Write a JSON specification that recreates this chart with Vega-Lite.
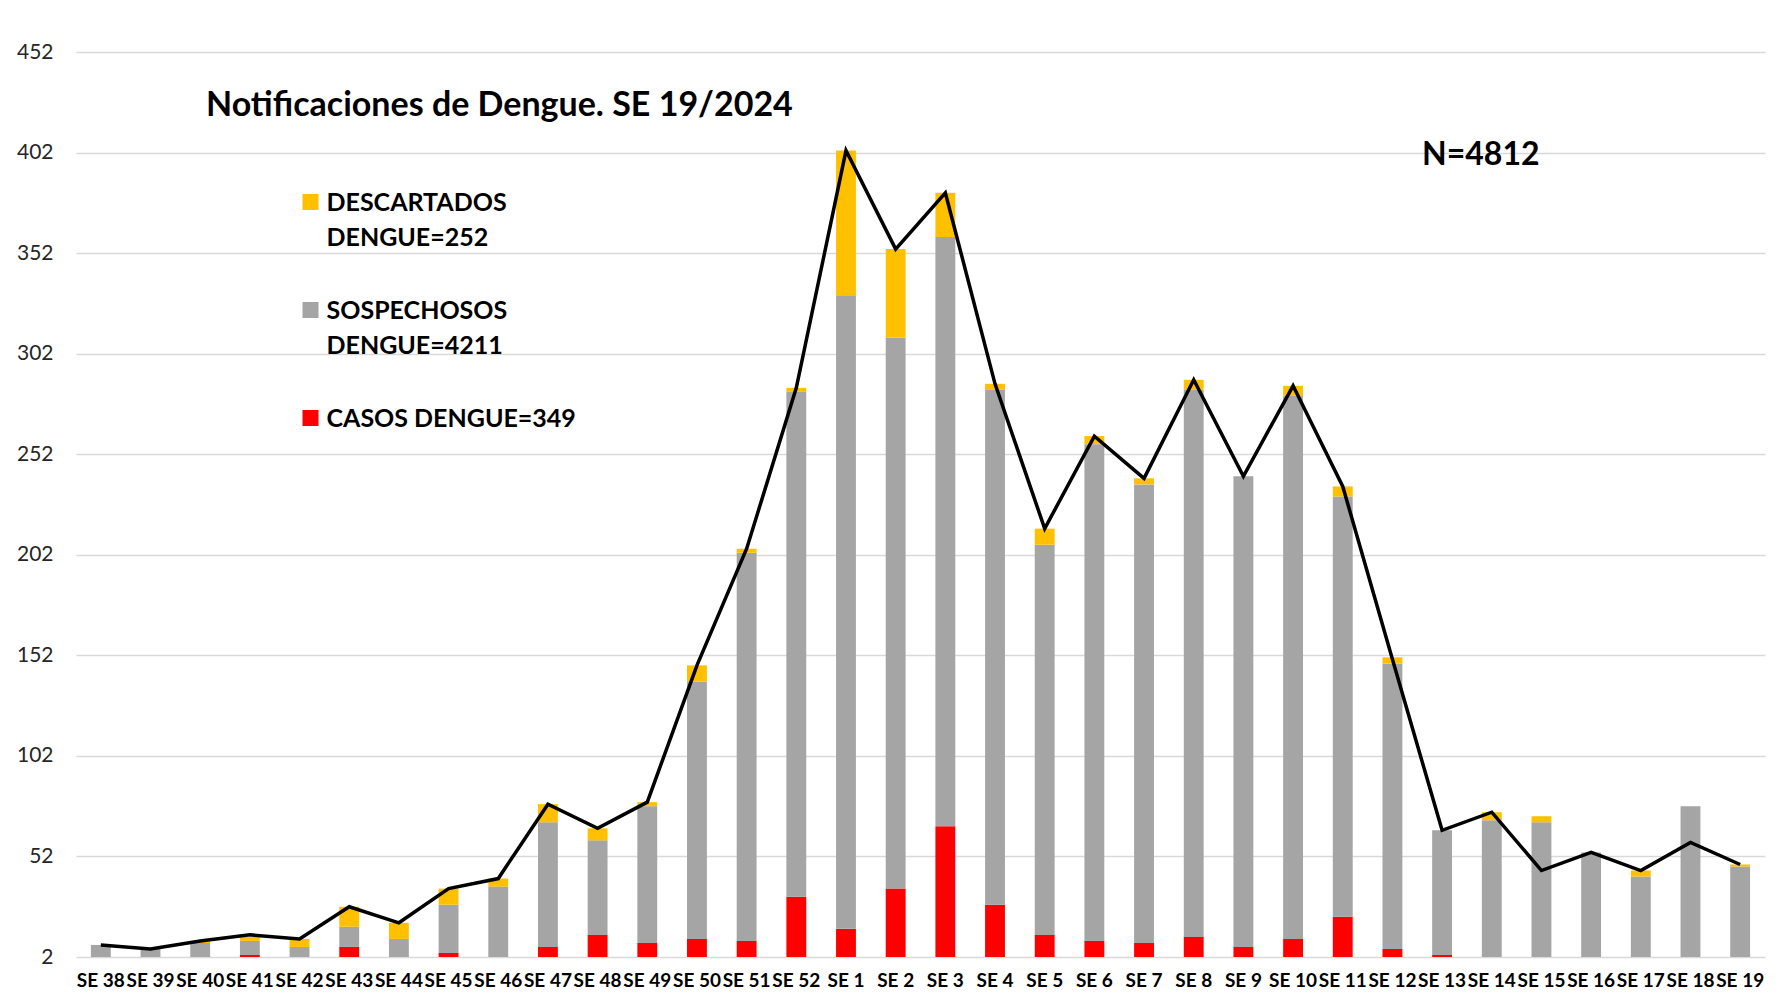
{
  "$schema": "https://vega.github.io/schema/vega-lite/v6.json",
  "width": 1689,
  "height": 905,
  "padding": {"left": 16, "top": 41, "right": 20, "bottom": 5},
  "background": "white",
  "title": {
    "text": "Notificaciones de Dengue. SE 19/2024",
    "anchor": "start",
    "frame": "group",
    "font": "Lato",
    "fontSize": 34,
    "fontWeight": "bold",
    "color": "#000000",
    "baseline": "alphabetic",
    "offset": 0,
    "dx": 130,
    "dy": 109
  },
  "config": {
    "view": {"stroke": null},
    "legend": {
      "labelFont": "Lato",
      "labelFontSize": 25,
      "labelFontWeight": "bold",
      "labelColor": "#000000",
      "symbolType": "square",
      "symbolSize": 256,
      "symbolStrokeWidth": 0,
      "padding": 0,
      "rowPadding": 46,
      "labelOffset": 3.5,
      "labelLimit": 400
    }
  },
  "data": {
    "values": [
      {"semana": "SE 38", "a_casos": 0, "b_sosp": 8, "c_desc": 0, "linea": 8},
      {"semana": "SE 39", "a_casos": 0, "b_sosp": 6, "c_desc": 0, "linea": 6},
      {"semana": "SE 40", "a_casos": 0, "b_sosp": 9, "c_desc": 1, "linea": 10},
      {"semana": "SE 41", "a_casos": 3, "b_sosp": 7, "c_desc": 2, "linea": 13},
      {"semana": "SE 42", "a_casos": 1, "b_sosp": 6, "c_desc": 4, "linea": 11},
      {"semana": "SE 43", "a_casos": 7, "b_sosp": 10, "c_desc": 10, "linea": 27},
      {"semana": "SE 44", "a_casos": 0, "b_sosp": 11, "c_desc": 8, "linea": 19},
      {"semana": "SE 45", "a_casos": 4, "b_sosp": 24, "c_desc": 8, "linea": 36},
      {"semana": "SE 46", "a_casos": 0, "b_sosp": 37, "c_desc": 4, "linea": 41},
      {"semana": "SE 47", "a_casos": 7, "b_sosp": 62, "c_desc": 9, "linea": 78},
      {"semana": "SE 48", "a_casos": 13, "b_sosp": 47, "c_desc": 6, "linea": 66},
      {"semana": "SE 49", "a_casos": 9, "b_sosp": 68, "c_desc": 2, "linea": 79},
      {"semana": "SE 50", "a_casos": 11, "b_sosp": 128, "c_desc": 8, "linea": 147},
      {"semana": "SE 51", "a_casos": 10, "b_sosp": 193, "c_desc": 2, "linea": 205},
      {"semana": "SE 52", "a_casos": 32, "b_sosp": 251, "c_desc": 2, "linea": 285},
      {"semana": "SE 1", "a_casos": 16, "b_sosp": 315, "c_desc": 72, "linea": 403},
      {"semana": "SE 2", "a_casos": 36, "b_sosp": 274, "c_desc": 44, "linea": 354},
      {"semana": "SE 3", "a_casos": 67, "b_sosp": 293, "c_desc": 22, "linea": 382},
      {"semana": "SE 4", "a_casos": 28, "b_sosp": 256, "c_desc": 3, "linea": 287},
      {"semana": "SE 5", "a_casos": 13, "b_sosp": 194, "c_desc": 8, "linea": 215},
      {"semana": "SE 6", "a_casos": 10, "b_sosp": 247, "c_desc": 4, "linea": 261},
      {"semana": "SE 7", "a_casos": 9, "b_sosp": 228, "c_desc": 3, "linea": 240},
      {"semana": "SE 8", "a_casos": 12, "b_sosp": 272, "c_desc": 5, "linea": 289},
      {"semana": "SE 9", "a_casos": 7, "b_sosp": 234, "c_desc": 0, "linea": 241},
      {"semana": "SE 10", "a_casos": 11, "b_sosp": 270, "c_desc": 5, "linea": 286},
      {"semana": "SE 11", "a_casos": 22, "b_sosp": 209, "c_desc": 5, "linea": 236},
      {"semana": "SE 12", "a_casos": 6, "b_sosp": 142, "c_desc": 3, "linea": 150},
      {"semana": "SE 13", "a_casos": 3, "b_sosp": 62, "c_desc": 0, "linea": 65},
      {"semana": "SE 14", "a_casos": 1, "b_sosp": 69, "c_desc": 4, "linea": 74},
      {"semana": "SE 15", "a_casos": 0, "b_sosp": 69, "c_desc": 3, "linea": 45},
      {"semana": "SE 16", "a_casos": 0, "b_sosp": 54, "c_desc": 0, "linea": 54},
      {"semana": "SE 17", "a_casos": 0, "b_sosp": 42, "c_desc": 3, "linea": 45},
      {"semana": "SE 18", "a_casos": 0, "b_sosp": 77, "c_desc": 0, "linea": 59},
      {"semana": "SE 19", "a_casos": 1, "b_sosp": 46, "c_desc": 1, "linea": 48}
    ]
  },
  "encoding": {
    "x": {
      "field": "semana",
      "type": "nominal",
      "sort": null,
      "scale": {"paddingInner": 0.6, "paddingOuter": 0.3},
      "axis": {
        "title": null,
        "labelAngle": 0,
        "labelFont": "Lato",
        "labelFontSize": 19,
        "labelFontWeight": "bold",
        "labelColor": "#000000",
        "labelPadding": 14,
        "labelOverlap": false,
        "labelLimit": 200,
        "domain": false,
        "ticks": false,
        "grid": false
      }
    }
  },
  "layer": [
    {
      "transform": [
        {"fold": ["a_casos", "b_sosp", "c_desc"], "as": ["tipo", "n"]}
      ],
      "mark": {"type": "bar", "clip": true},
      "encoding": {
        "y": {
          "field": "n",
          "type": "quantitative",
          "stack": "zero",
          "scale": {"domain": [2, 452], "nice": false, "zero": false},
          "axis": {
            "title": null,
            "values": [2, 52, 102, 152, 202, 252, 302, 352, 402, 452],
            "labelFont": "Lato",
            "labelFontSize": 21,
            "labelColor": "#262626",
            "labelPadding": 23,
            "domain": false,
            "ticks": false,
            "grid": true,
            "gridColor": "#D9D9D9",
            "gridWidth": 1.6
          }
        },
        "color": {
          "field": "tipo",
          "type": "nominal",
          "scale": {
            "domain": ["c_desc", "b_sosp", "a_casos"],
            "range": ["#FFC000", "#A5A5A5", "#FF0000"]
          },
          "legend": {
            "title": null,
            "orient": "none",
            "legendX": 222,
            "legendY": 137.5,
            "labelBaseline": "top",
            "labelExpr": "datum.value == 'c_desc' ? ['DESCARTADOS', 'DENGUE=252'] : datum.value == 'b_sosp' ? ['SOSPECHOSOS', 'DENGUE=4211'] : ['CASOS DENGUE=349', '']",
            "encode": {"labels": {"update": {"lineHeight": {"value": 35}, "dy": {"value": -11}}}}
          }
        },
        "order": {"field": "tipo", "sort": "ascending"}
      }
    },
    {
      "mark": {"type": "line", "color": "#000000", "strokeWidth": 3.5},
      "encoding": {
        "y": {"field": "linea", "type": "quantitative"}
      }
    },
    {
      "data": {"values": [{"texto": "N=4812"}]},
      "mark": {
        "type": "text",
        "font": "Lato",
        "fontSize": 32,
        "fontWeight": "bold",
        "color": "#000000",
        "align": "center",
        "baseline": "middle",
        "dx": -11
      },
      "encoding": {
        "x": {"datum": "SE 14"},
        "y": {"datum": 401},
        "text": {"field": "texto"}
      }
    }
  ]
}
